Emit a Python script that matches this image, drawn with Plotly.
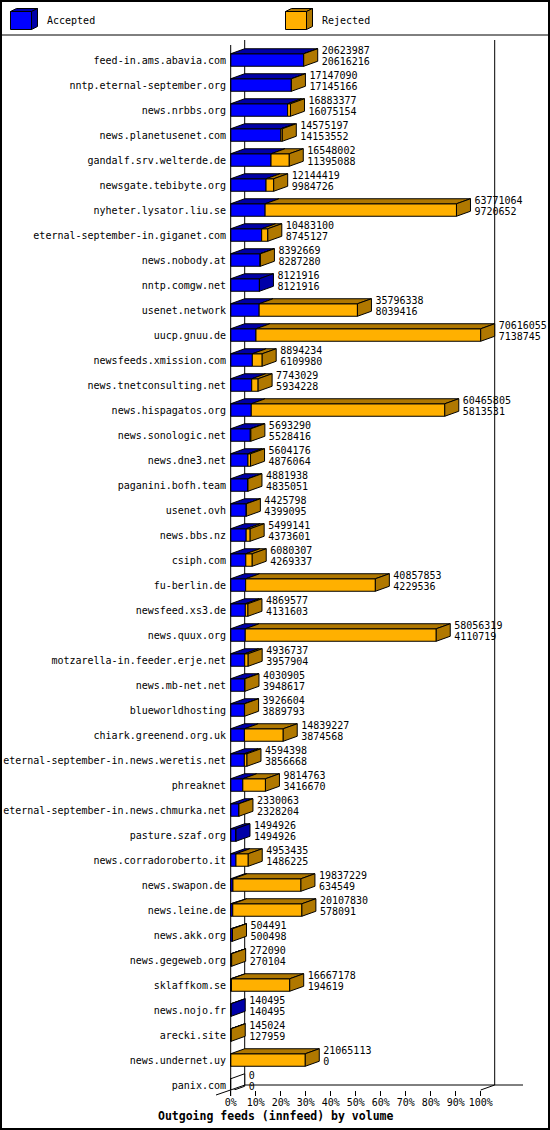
import plotly.graph_objects as go

# ---------------- data ----------------
hosts = [
    "feed-in.ams.abavia.com", "nntp.eternal-september.org", "news.nrbbs.org",
    "news.planetusenet.com", "gandalf.srv.welterde.de", "newsgate.tebibyte.org",
    "nyheter.lysator.liu.se", "eternal-september-in.giganet.com", "news.nobody.at",
    "nntp.comgw.net", "usenet.network", "uucp.gnuu.de", "newsfeeds.xmission.com",
    "news.tnetconsulting.net", "news.hispagatos.org", "news.sonologic.net",
    "news.dne3.net", "paganini.bofh.team", "usenet.ovh", "news.bbs.nz", "csiph.com",
    "fu-berlin.de", "newsfeed.xs3.de", "news.quux.org", "motzarella-in.feeder.erje.net",
    "news.mb-net.net", "blueworldhosting", "chiark.greenend.org.uk",
    "eternal-september-in.news.weretis.net", "phreaknet",
    "eternal-september-in.news.chmurka.net", "pasture.szaf.org",
    "news.corradoroberto.it", "news.swapon.de", "news.leine.de", "news.akk.org",
    "news.gegeweb.org", "sklaffkom.se", "news.nojo.fr", "arecki.site",
    "news.undernet.uy", "panix.com",
]
offered = [
    20623987, 17147090, 16883377, 14575197, 16548002, 12144419, 63771064, 10483100,
    8392669, 8121916, 35796338, 70616055, 8894234, 7743029, 60465805, 5693290,
    5604176, 4881938, 4425798, 5499141, 6080307, 40857853, 4869577, 58056319,
    4936737, 4030905, 3926604, 14839227, 4594398, 9814763, 2330063, 1494926,
    4953435, 19837229, 20107830, 504491, 272090, 16667178, 140495, 145024,
    21065113, 0,
]
accepted = [
    20616216, 17145166, 16075154, 14153552, 11395088, 9984726, 9720652, 8745127,
    8287280, 8121916, 8039416, 7138745, 6109980, 5934228, 5813531, 5528416,
    4876064, 4835051, 4399095, 4373601, 4269337, 4229536, 4131603, 4110719,
    3957904, 3948617, 3889793, 3874568, 3856668, 3416670, 2328204, 1494926,
    1486225, 634549, 578091, 500498, 270104, 194619, 140495, 127959,
    0, 0,
]
series_names = ["Accepted", "Rejected"]
tick_pcts = [0, 10, 20, 30, 40, 50, 60, 70, 80, 90, 100]
tick_labels = [f"{p}%" for p in tick_pcts]
title_text = "Outgoing feeds (innfeed) by volume"

# ---------------- derived ----------------
rows = list(range(len(hosts)))
vmax = max(offered)
acc_pct = [a / vmax * 100 for a in accepted]
off_pct = [o / vmax * 100 for o in offered]
rej_pct = [o - a for o, a in zip(off_pct, acc_pct)]
rejected = [o - a for o, a in zip(offered, accepted)]

BLUE, BLUE_D = "#0000FF", "#0000A8"
ORANGE, ORANGE_D = "#FFB000", "#B07800"
FONT = "DejaVu Sans Mono"

# geometry (figure pixels)
W, H = 550, 1130
ML, MR, MT, MB = 230, 20, 40, 40
PW, PH = W - ML - MR, H - MT - MB
PX_PER_PCT = 2.5
X0 = -0.7 / PX_PER_PCT
X1 = X0 + PW / PX_PER_PCT
Y_TOP = -0.8
Y_BOT = Y_TOP + PH / 25.0

BAR_H = 0.5
DX = 14 / PX_PER_PCT
DY = 5 / 25.0
TXT_GAP = 4 / PX_PER_PCT


def P(px, py):
    return (px - ML) / PW, (H - MB - py) / PH


def path(pts):
    return "M " + " L ".join(f"{x:.5f},{y:.5f}" for x, y in pts) + " Z"


def poly_xy(polys):
    xs, ys = [], []
    for pts in polys:
        for x, y in pts:
            xs.append(x)
            ys.append(y)
        xs.append(pts[0][0])
        ys.append(pts[0][1])
        xs.append(None)
        ys.append(None)
    return xs, ys


blue_top, blue_side, orange_top, orange_side, empty_side = [], [], [], [], []
for i, a, t, r in zip(rows, acc_pct, off_pct, rejected):
    top, bot = i - BAR_H / 2, i + BAR_H / 2
    if a > 0:
        blue_top.append([(0, top), (DX, top - DY), (a + DX, top - DY), (a, top)])
    if r > 0:
        orange_top.append([(a, top), (a + DX, top - DY), (t + DX, top - DY), (t, top)])
    side = [(t, top), (t + DX, top - DY), (t + DX, bot - DY), (t, bot)]
    if r > 0:
        orange_side.append(side)
    elif a > 0:
        blue_side.append(side)
    else:
        empty_side.append(side)

fig = go.Figure()
fig.add_trace(go.Bar(y=rows, x=acc_pct, base=[0] * len(rows), orientation="h", width=BAR_H,
                     marker=dict(color=BLUE, line=dict(color="black", width=1)),
                     name=series_names[0], hoverinfo="skip"))
fig.add_trace(go.Bar(y=rows, x=rej_pct, base=acc_pct, orientation="h", width=BAR_H,
                     marker=dict(color=ORANGE, line=dict(color="black", width=1)),
                     name=series_names[1], hoverinfo="skip"))

for polys, col in [(blue_top, BLUE_D), (blue_side, BLUE_D), (orange_top, ORANGE_D),
                   (orange_side, ORANGE_D), (empty_side, "white")]:
    if not polys:
        continue
    xs, ys = poly_xy(polys)
    fig.add_trace(go.Scatter(x=xs, y=ys, mode="lines", fill="toself", fillcolor=col,
                             line=dict(color="black", width=1), hoverinfo="skip",
                             showlegend=False))

fig.add_trace(go.Scatter(x=[t + DX + TXT_GAP for t in off_pct], y=[i - 0.36 for i in rows],
                         mode="text", text=[str(v) for v in offered],
                         textposition="middle right", cliponaxis=False,
                         textfont=dict(family=FONT, size=10, color="black"),
                         hoverinfo="skip", showlegend=False))
fig.add_trace(go.Scatter(x=[t + DX + TXT_GAP for t in off_pct], y=[i + 0.10 for i in rows],
                         mode="text", text=[str(v) for v in accepted],
                         textposition="middle right", cliponaxis=False,
                         textfont=dict(family=FONT, size=10, color="black"),
                         hoverinfo="skip", showlegend=False))

shapes = []
# back wall verticals
for xv in (DX, 100 + DX):
    shapes.append(dict(type="line", xref="x", yref="paper", x0=xv, x1=xv,
                       y0=P(0, 1085)[1], y1=P(0, 40)[1], layer="below",
                       line=dict(color="black", width=1)))
# back floor
shapes.append(dict(type="line", xref="paper", yref="paper",
                   x0=P(ML + 0.7 + DX * PX_PER_PCT, 0)[0], x1=P(523, 0)[0],
                   y0=P(0, 1085)[1], y1=P(0, 1085)[1], layer="below",
                   line=dict(color="black", width=1)))
# floor diagonals
shapes.append(dict(type="line", xref="paper", yref="paper",
                   x0=P(216, 0)[0], y0=P(0, 1095)[1], x1=P(245, 0)[0], y1=P(0, 1085)[1],
                   line=dict(color="black", width=1)))
shapes.append(dict(type="line", xref="x", yref="paper",
                   x0=100, y0=P(0, 1090)[1], x1=100 + DX, y1=P(0, 1085)[1],
                   line=dict(color="black", width=1)))
# front vertical axis
shapes.append(dict(type="line", xref="x", yref="paper", x0=0, x1=0,
                   y0=P(0, 1096)[1], y1=P(0, 45)[1],
                   line=dict(color="black", width=1)))
# outer border and legend separator
bx0, by0 = P(1, 1)
bx1, by1 = P(549, 1129)
shapes.append(dict(type="rect", xref="paper", yref="paper", x0=bx0, y0=by0, x1=bx1, y1=by1,
                   line=dict(color="black", width=2)))
shapes.append(dict(type="line", xref="paper", yref="paper",
                   x0=P(0, 0)[0], x1=P(550, 0)[0], y0=P(0, 35)[1], y1=P(0, 35)[1],
                   line=dict(color="black", width=1)))

# legend cubes
annotations = []
for k, (name, c, cd) in enumerate([(series_names[0], BLUE, BLUE_D),
                                   (series_names[1], ORANGE, ORANGE_D)]):
    ox = 275 * k
    x0, x1, y0, y1, d, e = 10.5 + ox, 31.5 + ox, 11.5, 29.5, 6, 3
    front = [P(x0, y0), P(x1, y0), P(x1, y1), P(x0, y1)]
    topf = [P(x0, y0), P(x0 + d, y0 - e), P(x1 + d, y0 - e), P(x1, y0)]
    sidef = [P(x1, y0), P(x1 + d, y0 - e), P(x1 + d, y1 - e), P(x1, y1)]
    for pts, col in [(front, c), (topf, cd), (sidef, cd)]:
        shapes.append(dict(type="path", xref="paper", yref="paper", path=path(pts),
                           fillcolor=col, line=dict(color="black", width=1)))
    tx, ty = P(44.6 + ox, 21)
    annotations.append(dict(x=tx, y=ty, xref="paper", yref="paper", text=name,
                            showarrow=False, xanchor="left", yanchor="middle",
                            font=dict(family=FONT, size=10, color="black")))

tx, ty = P(275, 1116)
annotations.append(dict(x=tx, y=ty, xref="paper", yref="paper", text=f"<b>{title_text}</b>",
                        showarrow=False, xanchor="center", yanchor="middle",
                        font=dict(family=FONT, size=11.5, color="black")))

fig.update_layout(
    width=W, height=H,
    margin=dict(l=ML, r=MR, t=MT, b=MB, pad=0, autoexpand=False),
    paper_bgcolor="white", plot_bgcolor="white",
    barmode="overlay", showlegend=False,
    shapes=shapes, annotations=annotations,
    xaxis=dict(range=[X0, X1], tickvals=tick_pcts, ticktext=tick_labels,
               ticks="outside", ticklen=5, tickcolor="black", tickwidth=1,
               ticklabelstandoff=-2,
               showgrid=False, zeroline=False, showline=False, automargin=False,
               tickfont=dict(family=FONT, size=10, color="black")),
    yaxis=dict(range=[Y_BOT, Y_TOP], tickvals=rows, ticktext=hosts,
               showgrid=False, zeroline=False, showline=False, ticks="",
               ticklabelstandoff=3, automargin=False,
               tickfont=dict(family=FONT, size=10, color="black")),
)

fig.write_html("out.html")
